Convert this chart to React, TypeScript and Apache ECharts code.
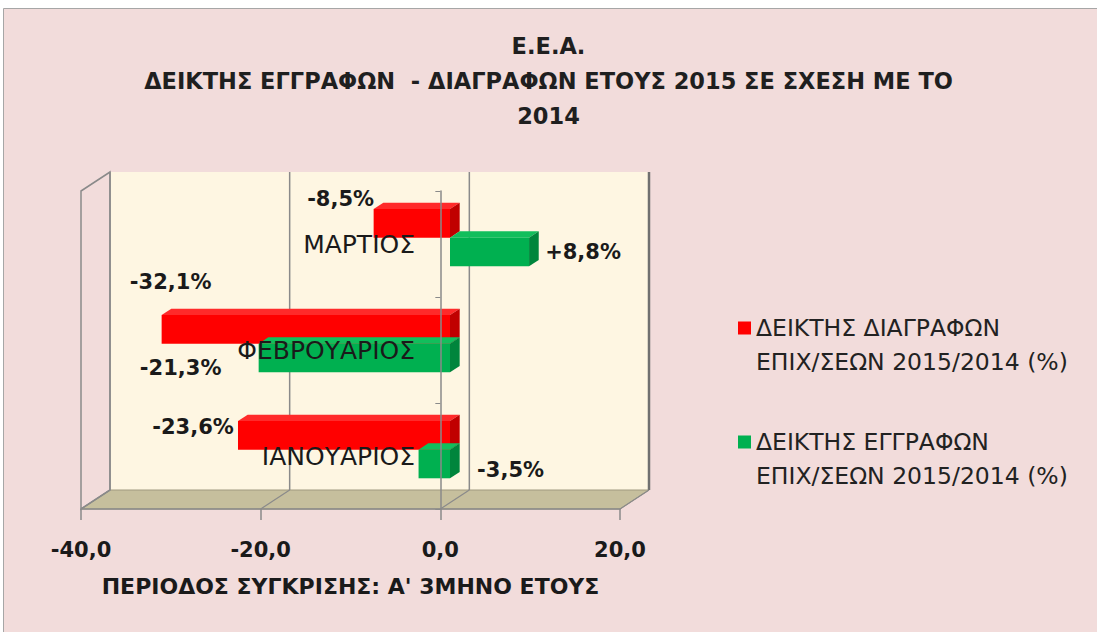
import React, { useEffect, useRef } from "react";
import * as echarts from "echarts";

const categories = ["ΙΑΝΟΥΑΡΙΟΣ", "ΦΕΒΡΟΥΑΡΙΟΣ", "ΜΑΡΤΙΟΣ"];
const deletionIndex = [-23.6, -32.1, -8.5];
const registrationIndex = [-3.5, -21.3, 8.8];
const xTicks = [-40, -20, 0, 20];
const seriesNames = [
  "ΔΕΙΚΤΗΣ ΔΙΑΓΡΑΦΩΝ\nΕΠΙΧ/ΣΕΩΝ 2015/2014 (%)",
  "ΔΕΙΚΤΗΣ ΕΓΓΡΑΦΩΝ\nΕΠΙΧ/ΣΕΩΝ 2015/2014 (%)",
];
const titleText = "Ε.Ε.Α.\nΔΕΙΚΤΗΣ ΕΓΓΡΑΦΩΝ  - ΔΙΑΓΡΑΦΩΝ ΕΤΟΥΣ 2015 ΣΕ ΣΧΕΣΗ ΜΕ ΤΟ\n2014";
const axisTitle = "ΠΕΡΙΟΔΟΣ ΣΥΓΚΡΙΣΗΣ: Α' 3ΜΗΝΟ ΕΤΟΥΣ";

// label centre offsets (px) from the bar's end
const deletionLabelOffsets = [[-45, -8], [9, -47], [-33, -24]];
const registrationLabelOffsets = [[92, 6], [-78, 10], [54, 0]];

const DX = 29;
const DY = -19;
const FONT = "'DejaVu Sans', 'Noto Sans', sans-serif";

const fmt = (v: number) => (v > 0 ? "+" : "") + v.toFixed(1).replace(".", ",") + "%";

function barRenderer(slot: number, colors: { front: string; top: string; side: string }, offsets: number[][]) {
  return (params: any, api: any) => {
    const v = api.value(0);
    const ci = api.value(1);
    const zero = api.coord([0, ci]);
    const end = api.coord([v, ci]);
    const band = api.size([0, 1])[1];
    const h = band * 0.27;
    const fx = DX / 3, fy = DY / 3;
    const bx = DX / 3, by = DY / 3;
    const left = Math.min(zero[0], end[0]) + fx;
    const right = Math.max(zero[0], end[0]) + fx;
    const top = (slot === 0 ? zero[1] - h : zero[1]) + fy;
    const bottom = top + h;
    const off = offsets[params.dataIndex];
    return {
      type: "group",
      children: [
        { type: "polygon", shape: { points: [[left, top], [left + bx, top + by], [right + bx, top + by], [right, top]] }, style: { fill: colors.top } },
        { type: "polygon", shape: { points: [[right, top], [right + bx, top + by], [right + bx, bottom + by], [right, bottom]] }, style: { fill: colors.side } },
        { type: "rect", shape: { x: left, y: top, width: right - left, height: h }, style: { fill: colors.front } },
        {
          type: "text",
          x: end[0] + fx + off[0],
          y: top + h / 2 + off[1],
          style: { text: fmt(v), fill: "#1a1a1a", font: `bold 21px ${FONT}`, align: "center", verticalAlign: "middle" },
        },
      ],
    };
  };
}

export default function App() {
  const ref = useRef<HTMLDivElement>(null);
  useEffect(() => {
    const chart = echarts.init(ref.current!, null, { renderer: "svg" });
    chart.setOption({
      animation: false,
      backgroundColor: "#ffffff",
      textStyle: { fontFamily: FONT },
      graphic: [
        {
          type: "rect",
          z: -10,
          shape: { x: 3.5, y: 8.5, width: 1100, height: 630 },
          style: { fill: "#F2DCDB", stroke: "#A6A6A6", lineWidth: 1 },
        },
      ],
      title: {
        text: titleText,
        left: "center",
        top: 23,
        textStyle: { fontFamily: FONT, fontWeight: "bold", fontSize: 22.5, lineHeight: 35, color: "#1f1f1f" },
      },
      legend: {
        orient: "vertical",
        left: 733,
        top: 306,
        itemGap: 46,
        itemWidth: 13,
        itemHeight: 68,
        data: seriesNames.map((n) => ({ name: n, icon: "path://M0,10.5h13v13h-13zM0,0h13v0h-13zM0,68h13v0h-13z" })),
        textStyle: { fontFamily: FONT, fontSize: 23.5, lineHeight: 34, color: "#222222" },
      },
      grid: { left: 81, right: 477, top: 191, bottom: 123, outerBoundsMode: "none", containLabel: false },
      xAxis: {
        type: "value",
        min: -40,
        max: 20,
        interval: 20,
        z: 5,
        name: axisTitle,
        nameLocation: "middle",
        nameGap: 66,
        nameTextStyle: { fontFamily: FONT, fontWeight: "bold", fontSize: 22, color: "#1a1a1a" },
        axisLine: { show: true, lineStyle: { color: "#8a8a8a", width: 1.5 } },
        axisTick: { show: true, length: 11, lineStyle: { color: "#8a8a8a", width: 1.5 } },
        axisLabel: {
          margin: 30,
          fontSize: 21,
          fontWeight: "bold",
          color: "#1a1a1a",
          formatter: (v: number) => v.toFixed(1).replace(".", ","),
        },
        splitLine: { show: false },
      },
      yAxis: {
        type: "category",
        data: categories,
        z: 5,
        axisLine: { show: true, onZero: true, lineStyle: { color: "#8a8a8a", width: 1.5 } },
        axisTick: { show: true, length: 5, lineStyle: { color: "#8a8a8a" } },
        axisLabel: { margin: -334, fontSize: 25, color: "#1a1a1a", padding: [14, 0, 0, 0] },
      },
      series: [
        {
          type: "custom",
          name: "frame",
          z: 1,
          silent: true,
          data: [[-40, 0]],
          encode: { x: 0, y: 1 },
          renderItem: (params: any, api: any) => {
            const cs = params.coordSys;
            const x0 = cs.x, x1 = cs.x + cs.width, y0 = cs.y, y1 = cs.y + cs.height;
            const children: any[] = [
              { type: "rect", shape: { x: x0 + DX, y: y0 + DY, width: x1 - x0, height: y1 - y0 }, style: { fill: "#FEF6E2" } },
              { type: "polygon", shape: { points: [[x0, y1], [x1, y1], [x1 + DX, y1 + DY], [x0 + DX, y1 + DY]] }, style: { fill: "#C6BF9D", stroke: "#A09A80", lineWidth: 1 } },
              { type: "polygon", shape: { points: [[x0, y0], [x0 + DX, y0 + DY], [x0 + DX, y1 + DY], [x0, y1]] }, style: { fill: "none", stroke: "#8a8a8a", lineWidth: 1.5 } },
            ];
            xTicks.forEach((t) => {
              const x = api.coord([t, 0])[0];
              children.push({ type: "line", shape: { x1: x + DX, y1: y0 + DY, x2: x + DX, y2: y1 + DY }, style: { stroke: t === 20 ? "#707070" : "#8a8a8a", lineWidth: t === 20 ? 2.5 : 1.5 } });
              children.push({ type: "line", shape: { x1: x, y1: y1, x2: x + DX, y2: y1 + DY }, style: { stroke: "#8a8a8a", lineWidth: 1.2 } });
            });
            return { type: "group", children };
          },
        },
        {
          type: "custom",
          name: seriesNames[0],
          z: 2,
          itemStyle: { color: "#FF0000" },
          data: deletionIndex.map((v, i) => [v, i]),
          encode: { x: 0, y: 1 },
          renderItem: barRenderer(0, { front: "#FF0000", top: "#FF2A2A", side: "#C00000" }, deletionLabelOffsets),
        },
        {
          type: "custom",
          name: seriesNames[1],
          z: 2,
          itemStyle: { color: "#00B050" },
          data: registrationIndex.map((v, i) => [v, i]),
          encode: { x: 0, y: 1 },
          renderItem: barRenderer(1, { front: "#00B050", top: "#12BE5C", side: "#00853C" }, registrationLabelOffsets),
        },
      ],
    });
    return () => chart.dispose();
  }, []);
  return (
    <div
      ref={ref}
      style={{ position: "fixed", left: 0, top: 0, width: 1097, height: 632 }}
    />
  );
}
